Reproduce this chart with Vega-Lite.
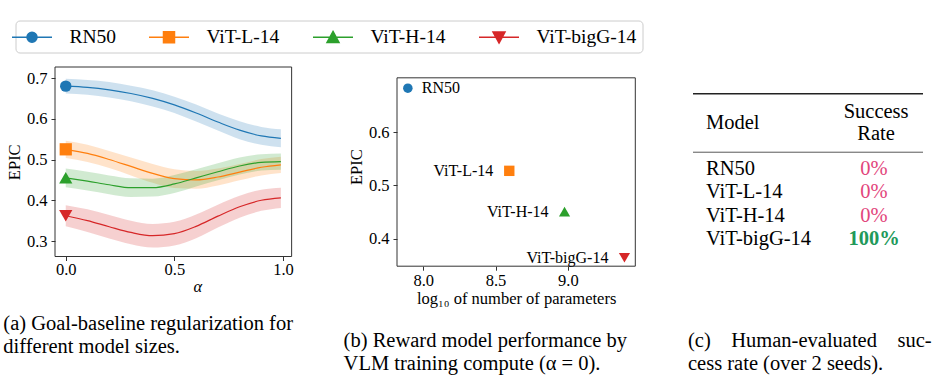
{
  "$schema": "https://vega.github.io/schema/vega-lite/v6.json",
  "background": "white",
  "padding": {"left": 3, "top": 20, "right": 0, "bottom": 0},
  "bounds": "flush",
  "spacing": 57,
  "config": {
    "font": "Liberation Serif",
    "view": {"stroke": null},
    "axis": {"grid": false, "domain": false, "ticks": true, "tickColor": "#333333", "tickSize": 4, "tickWidth": 1, "labelFont": "Liberation Serif", "labelFontSize": 16.5, "labelColor": "#000000", "titleFont": "Liberation Serif", "titleFontSize": 16.5, "titleFontWeight": "normal", "titleColor": "#000000"},
    "title": {"font": "Liberation Serif", "fontSize": 20.5, "fontWeight": "normal", "color": "#000000", "orient": "bottom", "anchor": "start", "frame": "group", "lineHeight": 23}
  },
  "datasets": {
    "curves": [
      {"model": "RN50", "alpha": 0, "mean": 0.680, "lo": 0.662, "hi": 0.698},
      {"model": "RN50", "alpha": 0.1, "mean": 0.677, "lo": 0.659, "hi": 0.695},
      {"model": "RN50", "alpha": 0.2, "mean": 0.671, "lo": 0.652, "hi": 0.690},
      {"model": "RN50", "alpha": 0.3, "mean": 0.662, "lo": 0.643, "hi": 0.681},
      {"model": "RN50", "alpha": 0.4, "mean": 0.650, "lo": 0.630, "hi": 0.670},
      {"model": "RN50", "alpha": 0.5, "mean": 0.634, "lo": 0.614, "hi": 0.654},
      {"model": "RN50", "alpha": 0.6, "mean": 0.614, "lo": 0.593, "hi": 0.635},
      {"model": "RN50", "alpha": 0.7, "mean": 0.592, "lo": 0.571, "hi": 0.613},
      {"model": "RN50", "alpha": 0.8, "mean": 0.572, "lo": 0.550, "hi": 0.594},
      {"model": "RN50", "alpha": 0.9, "mean": 0.558, "lo": 0.536, "hi": 0.580},
      {"model": "RN50", "alpha": 0.99, "mean": 0.552, "lo": 0.530, "hi": 0.574},
      {"model": "ViT-L-14", "alpha": 0, "mean": 0.525, "lo": 0.504, "hi": 0.546},
      {"model": "ViT-L-14", "alpha": 0.1, "mean": 0.515, "lo": 0.494, "hi": 0.536},
      {"model": "ViT-L-14", "alpha": 0.2, "mean": 0.500, "lo": 0.479, "hi": 0.521},
      {"model": "ViT-L-14", "alpha": 0.3, "mean": 0.483, "lo": 0.461, "hi": 0.505},
      {"model": "ViT-L-14", "alpha": 0.4, "mean": 0.466, "lo": 0.443, "hi": 0.489},
      {"model": "ViT-L-14", "alpha": 0.5, "mean": 0.453, "lo": 0.430, "hi": 0.476},
      {"model": "ViT-L-14", "alpha": 0.6, "mean": 0.450, "lo": 0.428, "hi": 0.472},
      {"model": "ViT-L-14", "alpha": 0.7, "mean": 0.457, "lo": 0.436, "hi": 0.478},
      {"model": "ViT-L-14", "alpha": 0.8, "mean": 0.469, "lo": 0.449, "hi": 0.489},
      {"model": "ViT-L-14", "alpha": 0.9, "mean": 0.481, "lo": 0.461, "hi": 0.501},
      {"model": "ViT-L-14", "alpha": 0.99, "mean": 0.487, "lo": 0.467, "hi": 0.507},
      {"model": "ViT-H-14", "alpha": 0, "mean": 0.455, "lo": 0.432, "hi": 0.478},
      {"model": "ViT-H-14", "alpha": 0.1, "mean": 0.447, "lo": 0.424, "hi": 0.470},
      {"model": "ViT-H-14", "alpha": 0.2, "mean": 0.438, "lo": 0.415, "hi": 0.461},
      {"model": "ViT-H-14", "alpha": 0.3, "mean": 0.431, "lo": 0.408, "hi": 0.454},
      {"model": "ViT-H-14", "alpha": 0.4, "mean": 0.431, "lo": 0.409, "hi": 0.453},
      {"model": "ViT-H-14", "alpha": 0.5, "mean": 0.440, "lo": 0.418, "hi": 0.462},
      {"model": "ViT-H-14", "alpha": 0.6, "mean": 0.455, "lo": 0.434, "hi": 0.476},
      {"model": "ViT-H-14", "alpha": 0.7, "mean": 0.470, "lo": 0.449, "hi": 0.491},
      {"model": "ViT-H-14", "alpha": 0.8, "mean": 0.484, "lo": 0.463, "hi": 0.505},
      {"model": "ViT-H-14", "alpha": 0.9, "mean": 0.493, "lo": 0.473, "hi": 0.513},
      {"model": "ViT-H-14", "alpha": 0.99, "mean": 0.495, "lo": 0.475, "hi": 0.515},
      {"model": "ViT-bigG-14", "alpha": 0, "mean": 0.362, "lo": 0.336, "hi": 0.388},
      {"model": "ViT-bigG-14", "alpha": 0.1, "mean": 0.350, "lo": 0.322, "hi": 0.378},
      {"model": "ViT-bigG-14", "alpha": 0.2, "mean": 0.335, "lo": 0.306, "hi": 0.364},
      {"model": "ViT-bigG-14", "alpha": 0.3, "mean": 0.321, "lo": 0.292, "hi": 0.350},
      {"model": "ViT-bigG-14", "alpha": 0.4, "mean": 0.313, "lo": 0.284, "hi": 0.342},
      {"model": "ViT-bigG-14", "alpha": 0.5, "mean": 0.318, "lo": 0.289, "hi": 0.347},
      {"model": "ViT-bigG-14", "alpha": 0.6, "mean": 0.336, "lo": 0.307, "hi": 0.365},
      {"model": "ViT-bigG-14", "alpha": 0.7, "mean": 0.361, "lo": 0.333, "hi": 0.389},
      {"model": "ViT-bigG-14", "alpha": 0.8, "mean": 0.384, "lo": 0.357, "hi": 0.411},
      {"model": "ViT-bigG-14", "alpha": 0.9, "mean": 0.400, "lo": 0.374, "hi": 0.426},
      {"model": "ViT-bigG-14", "alpha": 0.99, "mean": 0.406, "lo": 0.381, "hi": 0.431}
    ],
    "params": [
      {"model": "RN50", "logp": 7.894, "epic": 0.6825},
      {"model": "ViT-L-14", "logp": 8.595, "epic": 0.5275},
      {"model": "ViT-H-14", "logp": 8.977, "epic": 0.451},
      {"model": "ViT-bigG-14", "logp": 9.391, "epic": 0.3645}
    ],
    "table": [
      {"model": "RN50", "rate": "0%", "row": 1},
      {"model": "ViT-L-14", "rate": "0%", "row": 2},
      {"model": "ViT-H-14", "rate": "0%", "row": 3},
      {"model": "ViT-bigG-14", "rate": "100%", "row": 4}
    ]
  },
  "hconcat": [
    {
      "width": 284.7,
      "height": 189.5,
      "title": {"text": ["(a) Goal-baseline regularization for", "different model sizes."], "dx": -51.7, "offset": 19},
      "data": {"name": "curves"},
      "resolve": {"legend": {"color": "independent", "stroke": "independent", "shape": "independent"}},
      "layer": [
        {
          "mark": {"type": "area", "opacity": 0.22, "interpolate": "monotone"},
          "encoding": {
            "x": {"field": "alpha", "type": "quantitative", "scale": {"domain": [-0.0495, 1.2607], "nice": false, "zero": false}, "axis": {"values": [0, 0.5, 1], "format": ".1f", "title": "α", "titleFontStyle": "italic", "labelPadding": 1, "titlePadding": 0}},
            "y": {"field": "lo", "type": "quantitative", "scale": {"domain": [0.262, 0.727], "nice": false, "zero": false}, "axis": {"values": [0.3, 0.4, 0.5, 0.6, 0.7], "format": ".1f", "title": "EPIC", "labelPadding": 4, "titlePadding": 4}},
            "y2": {"field": "hi"},
            "color": {"field": "model", "type": "nominal", "scale": {"domain": ["RN50", "ViT-L-14", "ViT-H-14", "ViT-bigG-14"], "range": ["#1f77b4", "#ff7f0e", "#2ca02c", "#d62728"]}, "legend": null}
          }
        },
        {
          "mark": {"type": "line", "strokeWidth": 1.2, "interpolate": "monotone"},
          "encoding": {
            "x": {"field": "alpha", "type": "quantitative"},
            "y": {"field": "mean", "type": "quantitative"},
            "color": {"field": "model", "type": "nominal", "legend": null}
          }
        },
        {
          "transform": [{"filter": "datum.alpha == 0 && datum.model == 'RN50'"}],
          "mark": {"type": "point", "shape": "circle", "filled": true, "opacity": 1, "size": 130},
          "encoding": {
            "x": {"field": "alpha", "type": "quantitative"},
            "y": {"field": "mean", "type": "quantitative"},
            "color": {"field": "model", "type": "nominal", "legend": null}
          }
        },
        {
          "transform": [{"filter": "datum.alpha == 0 && datum.model == 'ViT-L-14'"}],
          "mark": {"type": "point", "shape": "square", "filled": true, "opacity": 1, "size": 150},
          "encoding": {
            "x": {"field": "alpha", "type": "quantitative"},
            "y": {"field": "mean", "type": "quantitative"},
            "color": {"field": "model", "type": "nominal", "legend": null}
          }
        },
        {
          "transform": [{"filter": "datum.alpha == 0 && datum.model == 'ViT-H-14'"}],
          "mark": {"type": "point", "shape": "triangle-up", "filled": true, "opacity": 1, "size": 175},
          "encoding": {
            "x": {"field": "alpha", "type": "quantitative"},
            "y": {"field": "mean", "type": "quantitative"},
            "color": {"field": "model", "type": "nominal", "legend": null}
          }
        },
        {
          "transform": [{"filter": "datum.alpha == 0 && datum.model == 'ViT-bigG-14'"}],
          "mark": {"type": "point", "shape": "triangle-down", "filled": true, "opacity": 1, "size": 175},
          "encoding": {
            "x": {"field": "alpha", "type": "quantitative"},
            "y": {"field": "mean", "type": "quantitative"},
            "color": {"field": "model", "type": "nominal", "legend": null}
          }
        },
        {
          "transform": [{"filter": "datum.alpha == 0"}],
          "mark": {"type": "point", "filled": true, "opacity": 0, "size": 400, "strokeWidth": 1.5},
          "encoding": {
            "x": {"field": "alpha", "type": "quantitative"},
            "y": {"field": "mean", "type": "quantitative"},
            "color": {"field": "model", "type": "nominal", "legend": {"title": null, "orient": "none", "legendX": -39.5, "legendY": -46.5, "direction": "horizontal", "columns": 4, "symbolSize": 400, "symbolStrokeWidth": 1.5, "symbolOpacity": 1, "labelFont": "Liberation Serif", "labelFontSize": 19.5, "labelColor": "#000000", "labelOffset": 26.4, "columnPadding": 30, "padding": 5.5, "strokeColor": "#cccccc", "fillColor": "#ffffff", "cornerRadius": 4}},
            "stroke": {"field": "model", "type": "nominal", "scale": {"domain": ["RN50", "ViT-L-14", "ViT-H-14", "ViT-bigG-14"], "range": ["#1f77b4", "#ff7f0e", "#2ca02c", "#d62728"]}, "legend": {"title": null, "orient": "none", "legendX": -39.5, "legendY": -46.5, "direction": "horizontal", "columns": 4, "symbolSize": 400, "symbolStrokeWidth": 1.5, "symbolOpacity": 1, "labelFont": "Liberation Serif", "labelFontSize": 19.5, "labelColor": "#000000", "labelOffset": 26.4, "columnPadding": 30, "padding": 5.5, "strokeColor": "#cccccc", "fillColor": "#ffffff", "cornerRadius": 4}},
            "shape": {"field": "model", "type": "nominal", "scale": {"domain": ["RN50", "ViT-L-14", "ViT-H-14", "ViT-bigG-14"], "range": ["M-2,0H2M0.5,0A0.5,0.5,0,1,1,-0.5,0A0.5,0.5,0,1,1,0.5,0Z", "M-2,0H2M-0.55,-0.55H0.55V0.55H-0.55Z", "M-2,0H2M0,-0.58L0.6,0.52L-0.6,0.52Z", "M-2,0H2M0,0.58L0.6,-0.52L-0.6,-0.52Z"]}, "legend": {"title": null, "orient": "none", "legendX": -39.5, "legendY": -46.5, "direction": "horizontal", "columns": 4, "symbolSize": 400, "symbolStrokeWidth": 1.5, "symbolOpacity": 1, "labelFont": "Liberation Serif", "labelFontSize": 19.5, "labelColor": "#000000", "labelOffset": 26.4, "columnPadding": 30, "padding": 5.5, "strokeColor": "#cccccc", "fillColor": "#ffffff", "cornerRadius": 4}}
          }
        },
        {
          "data": {"values": [{"frame": "a"}]},
          "mark": {"type": "rect", "fill": "#ffffff", "fillOpacity": 0, "stroke": "#333333", "strokeWidth": 1},
          "encoding": {
            "x": {"datum": -0.0495, "type": "quantitative"},
            "x2": {"datum": 1.0395},
            "y": {"datum": 0.262, "type": "quantitative"},
            "y2": {"datum": 0.727}
          }
        }
      ]
    },
    {
      "width": 238.3,
      "height": 199.2,
      "title": {"text": ["(b) Reward model performance by", "VLM training compute (α = 0)."], "dx": -53.4, "offset": 24},
      "data": {"name": "params"},
      "layer": [
        {
          "data": {"values": [{"frame": "b"}]},
          "mark": {"type": "rect", "fill": "#ffffff", "fillOpacity": 0, "stroke": "#333333", "strokeWidth": 1},
          "encoding": {
            "x": {"datum": 7.819, "type": "quantitative", "scale": {"domain": [7.819, 9.466], "nice": false, "zero": false}, "axis": {"values": [8, 8.5, 9], "format": ".1f", "title": "log₁₀ of number of parameters", "labelPadding": 2, "titlePadding": 2}},
            "x2": {"datum": 9.466},
            "y": {"datum": 0.3486, "type": "quantitative", "scale": {"domain": [0.3486, 0.7223], "nice": false, "zero": false}, "axis": {"values": [0.4, 0.5, 0.6], "format": ".1f", "title": "EPIC", "labelPadding": 4, "titlePadding": 4}},
            "y2": {"datum": 0.702}
          }
        },
        {
          "transform": [{"filter": "datum.model == 'RN50'"}],
          "mark": {"type": "point", "shape": "circle", "filled": true, "opacity": 1, "size": 90, "color": "#1f77b4"},
          "encoding": {
            "x": {"field": "logp", "type": "quantitative"},
            "y": {"field": "epic", "type": "quantitative"}
          }
        },
        {
          "transform": [{"filter": "datum.model == 'ViT-L-14'"}],
          "mark": {"type": "point", "shape": "square", "filled": true, "opacity": 1, "size": 108, "color": "#ff7f0e"},
          "encoding": {
            "x": {"field": "logp", "type": "quantitative"},
            "y": {"field": "epic", "type": "quantitative"}
          }
        },
        {
          "transform": [{"filter": "datum.model == 'ViT-H-14'"}],
          "mark": {"type": "point", "shape": "triangle-up", "filled": true, "opacity": 1, "size": 125, "color": "#2ca02c"},
          "encoding": {
            "x": {"field": "logp", "type": "quantitative"},
            "y": {"field": "epic", "type": "quantitative"}
          }
        },
        {
          "transform": [{"filter": "datum.model == 'ViT-bigG-14'"}],
          "mark": {"type": "point", "shape": "triangle-down", "filled": true, "opacity": 1, "size": 125, "color": "#d62728"},
          "encoding": {
            "x": {"field": "logp", "type": "quantitative"},
            "y": {"field": "epic", "type": "quantitative"}
          }
        },
        {
          "transform": [{"filter": "datum.model == 'RN50'"}],
          "mark": {"type": "text", "align": "left", "baseline": "middle", "dx": 14, "fontSize": 16, "font": "Liberation Serif", "color": "#000000"},
          "encoding": {
            "x": {"field": "logp", "type": "quantitative"},
            "y": {"field": "epic", "type": "quantitative"},
            "text": {"field": "model"}
          }
        },
        {
          "transform": [{"filter": "datum.model != 'RN50'"}],
          "mark": {"type": "text", "align": "right", "baseline": "middle", "dx": -16, "fontSize": 16, "font": "Liberation Serif", "color": "#000000"},
          "encoding": {
            "x": {"field": "logp", "type": "quantitative"},
            "y": {"field": "epic", "type": "quantitative"},
            "text": {"field": "model"}
          }
        }
      ]
    },
    {
      "width": 230,
      "height": 200,
      "title": {"text": ["(c)\u00a0\u00a0\u00a0\u00a0Human-evaluated\u00a0\u00a0\u00a0\u00a0suc-", "cess rate (over 2 seeds)."], "dx": -5, "offset": 64},
      "data": {"name": "table"},
      "layer": [
        {
          "data": {"values": [{"rule": "top"}]},
          "mark": {"type": "rule", "stroke": "#222222", "strokeWidth": 1.4},
          "encoding": {
            "y": {"datum": -2.2, "type": "quantitative", "scale": {"domain": [-3.34, 5.171], "reverse": true, "nice": false, "zero": false}, "axis": null}
          }
        },
        {
          "data": {"values": [{"rule": "mid"}]},
          "mark": {"type": "rule", "stroke": "#444444", "strokeWidth": 0.9},
          "encoding": {
            "y": {"datum": 0.286, "type": "quantitative", "axis": null}
          }
        },
        {
          "data": {"values": [{"header": "Model"}]},
          "mark": {"type": "text", "align": "left", "baseline": "middle", "fontSize": 20.5, "font": "Liberation Serif", "color": "#000000"},
          "encoding": {
            "x": {"datum": 0.0565, "type": "quantitative", "scale": {"domain": [0, 1], "nice": false, "zero": false}, "axis": null},
            "y": {"datum": -0.936, "type": "quantitative", "axis": null},
            "text": {"field": "header"}
          }
        },
        {
          "data": {"values": [{"header": "Success Rate"}]},
          "mark": {"type": "text", "align": "center", "baseline": "middle", "fontSize": 20.5, "font": "Liberation Serif", "color": "#000000", "lineHeight": 22, "text": ["Success", "Rate"]},
          "encoding": {
            "x": {"datum": 0.796, "type": "quantitative", "axis": null},
            "y": {"datum": -1.446, "type": "quantitative", "axis": null}
          }
        },
        {
          "mark": {"type": "text", "align": "left", "baseline": "middle", "fontSize": 20.5, "font": "Liberation Serif", "color": "#000000"},
          "encoding": {
            "x": {"datum": 0.0565, "type": "quantitative", "axis": null},
            "y": {"field": "row", "type": "quantitative", "axis": null},
            "text": {"field": "model"}
          }
        },
        {
          "transform": [{"filter": "datum.rate != '100%'"}],
          "mark": {"type": "text", "align": "center", "baseline": "middle", "fontSize": 20.5, "font": "Liberation Serif", "color": "#e2457c"},
          "encoding": {
            "x": {"datum": 0.787, "type": "quantitative", "axis": null},
            "y": {"field": "row", "type": "quantitative", "axis": null},
            "text": {"field": "rate"}
          }
        },
        {
          "transform": [{"filter": "datum.rate == '100%'"}],
          "mark": {"type": "text", "align": "center", "baseline": "middle", "fontSize": 20.5, "font": "Liberation Serif", "fontWeight": "bold", "color": "#22995a"},
          "encoding": {
            "x": {"datum": 0.787, "type": "quantitative", "axis": null},
            "y": {"field": "row", "type": "quantitative", "axis": null},
            "text": {"field": "rate"}
          }
        }
      ]
    }
  ]
}
